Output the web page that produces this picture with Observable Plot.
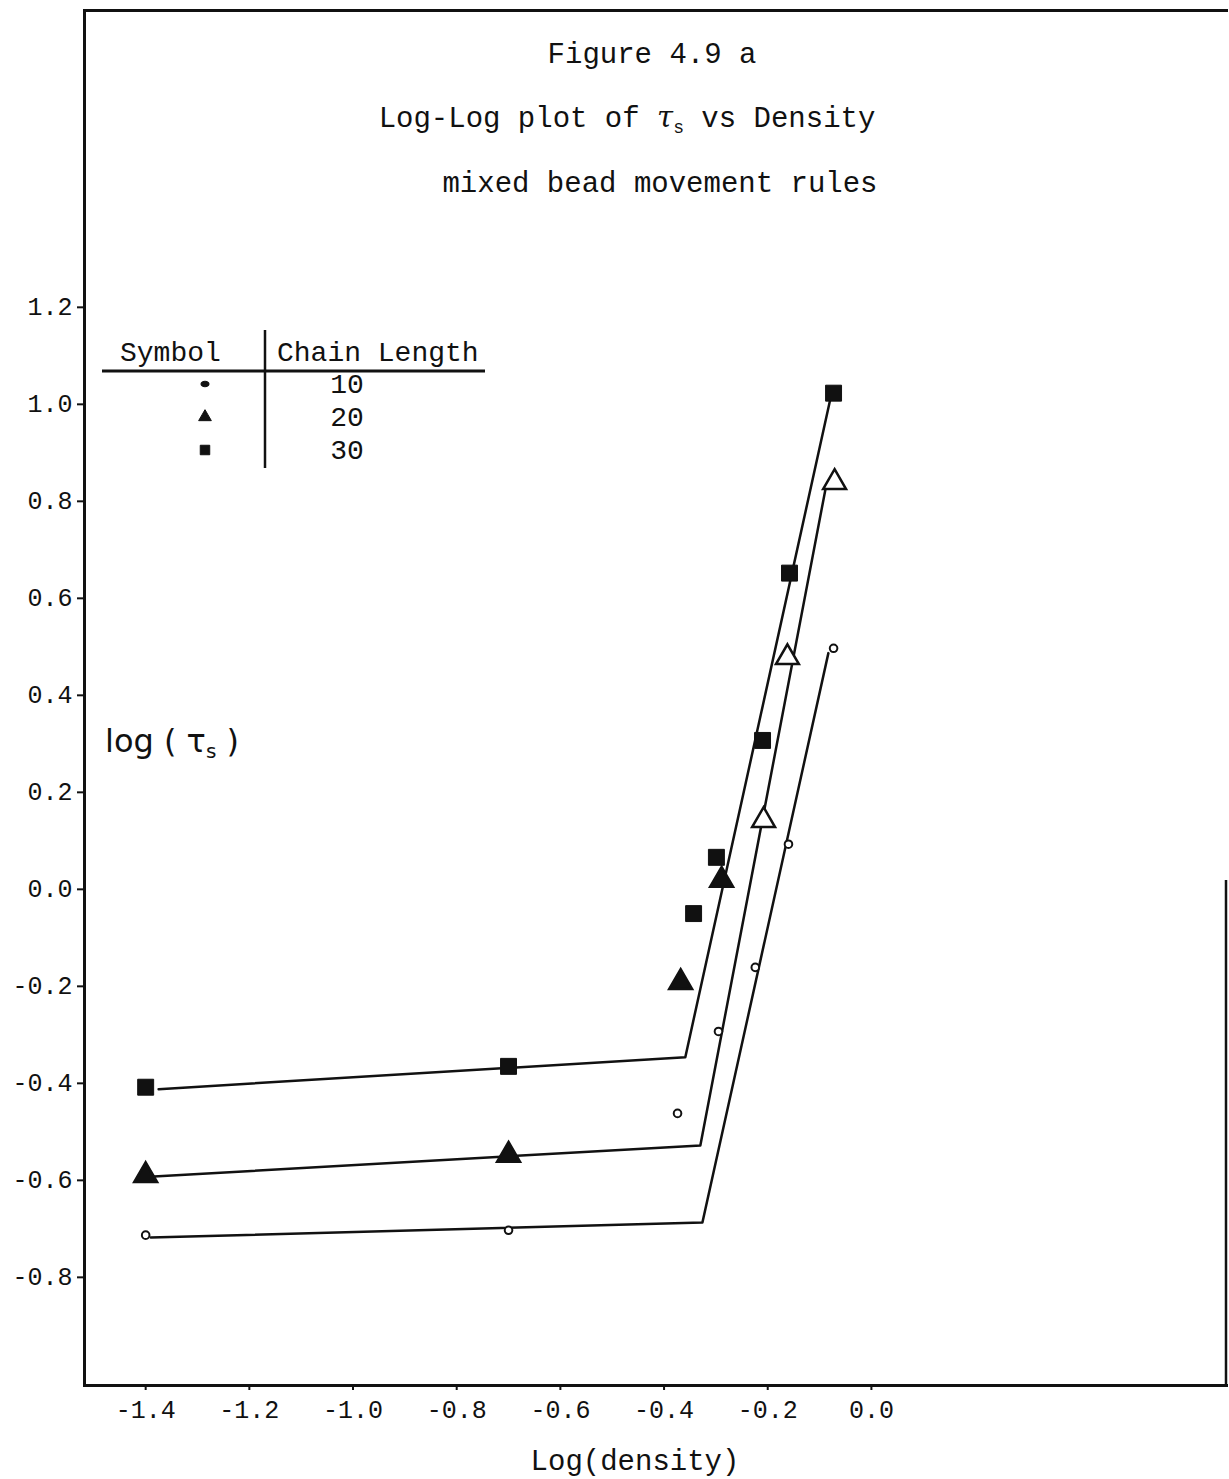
<!DOCTYPE html>
<html><head><meta charset="utf-8">
<script src="https://cdn.jsdelivr.net/npm/d3@7"></script>
<script src="https://cdn.jsdelivr.net/npm/@observablehq/plot@0.6"></script>
<style>body{margin:0;background:#fff} svg{display:block}</style>
</head><body><div id="chart"></div>
<script>
// ---- data ----
const chainLengths = [10, 20, 30];

const chain10X = [-1.40, -0.70, -0.374, -0.295, -0.224, -0.160, -0.073];
const chain10Y = [-0.713, -0.703, -0.462, -0.293, -0.161, 0.093, 0.497];
const chain20X = [-1.40, -0.70, -0.368, -0.289, -0.208, -0.162, -0.071];
const chain20Y = [-0.590, -0.548, -0.192, 0.019, 0.142, 0.478, 0.839];
const chain30X = [-1.40, -0.70, -0.343, -0.299, -0.210, -0.158, -0.073];
const chain30Y = [-0.408, -0.365, -0.050, 0.066, 0.307, 0.652, 1.023];

// fitted piecewise lines (start, knee, end)
const fit10X = [-1.390, -0.326, -0.083];
const fit10Y = [-0.718, -0.687, 0.487];
const fit20X = [-1.384, -0.330, -0.089];
const fit20Y = [-0.592, -0.528, 0.823];
const fit30X = [-1.375, -0.359, -0.079];
const fit30Y = [-0.412, -0.346, 1.012];

const xTicks = [-1.4, -1.2, -1.0, -0.8, -0.6, -0.4, -0.2, 0.0];
const yTicks = [1.2, 1.0, 0.8, 0.6, 0.4, 0.2, 0.0, -0.2, -0.4, -0.6, -0.8];

const titleLine1 = "Figure 4.9 a";
const titleLine2a = "Log-Log plot of ";
const titleLine2b = " vs Density";
const titleLine3 = "mixed bead movement rules";
const xLabel = "Log(density)";
const legendHead = ["Symbol", "Chain Length"];

// ---- tables ----
const toRows = (xs, ys, chain) => xs.map((x, i) => ({x, y: ys[i], chain}));
const pts10 = toRows(chain10X, chain10Y, 10);
const pts20 = toRows(chain20X, chain20Y, 20);
const pts30 = toRows(chain30X, chain30Y, 30);
const fits = [
  ...toRows(fit10X, fit10Y, 10),
  ...toRows(fit20X, fit20Y, 20),
  ...toRows(fit30X, fit30Y, 30)
];

const ink = "#111";
const fmt = d => d.toFixed(1);
const mono = "Liberation Mono, DejaVu Sans Mono, monospace";

const chart = Plot.plot({
  width: 1229,
  height: 1479,
  marginLeft: 84,
  marginRight: 3,
  marginTop: 10,
  marginBottom: 94,
  x: {domain: [-1.518, 0.685]},
  y: {domain: [-1.023, 1.812]},
  style: {fontFamily: mono, fontSize: "24px", color: ink, background: "white"},
  marks: [
    Plot.frame({anchor: "left", stroke: ink, strokeWidth: 3}),
    Plot.frame({anchor: "top", stroke: ink, strokeWidth: 3}),
    Plot.frame({anchor: "bottom", stroke: ink, strokeWidth: 3}),
    Plot.axisX({ticks: xTicks, tickFormat: fmt, tickSize: 5, tickPadding: 10, fontSize: 25, label: null, strokeWidth: 2}),
    Plot.axisY({ticks: yTicks, tickFormat: fmt, tickSize: 7, tickPadding: 5, fontSize: 25, label: null, strokeWidth: 2}),
    Plot.line(fits, {x: "x", y: "y", z: "chain", stroke: ink, strokeWidth: 2.5}),
    Plot.dot(pts10, {x: "x", y: "y", symbol: "circle", r: 3.8, fill: "white", stroke: ink, strokeWidth: 2}),
    Plot.dot(pts20, {x: "x", y: "y", symbol: "triangle", r: 8.5,
      fill: d => d.x < -0.25 ? ink : "white", stroke: ink, strokeWidth: 2.5}),
    Plot.dot(pts30, {x: "x", y: "y", symbol: "square", r: 9, fill: ink, stroke: ink, strokeWidth: 1})
  ]
});

const svg = d3.select(chart);

// titles
svg.append("text").attr("x", 652).attr("y", 63).attr("text-anchor", "middle")
  .attr("font-family", mono).attr("font-size", 29).attr("fill", ink).text(titleLine1);
const t2 = svg.append("text").attr("x", 627).attr("y", 127).attr("text-anchor", "middle")
  .attr("font-family", mono).attr("font-size", 29).attr("fill", ink);
t2.append("tspan").text(titleLine2a);
t2.append("tspan").attr("font-family", "DejaVu Serif, serif").attr("font-style", "italic").text("τ");
t2.append("tspan").attr("font-size", 18).attr("dy", 6).text("s");
t2.append("tspan").attr("dy", -6).text(titleLine2b);
svg.append("text").attr("x", 660).attr("y", 192).attr("text-anchor", "middle")
  .attr("font-family", mono).attr("font-size", 29).attr("fill", ink).text(titleLine3);

// x axis label
svg.append("text").attr("x", 635).attr("y", 1470).attr("text-anchor", "middle")
  .attr("font-family", mono).attr("font-size", 29).attr("fill", ink).text(xLabel);

// handwritten y label
const yl = svg.append("text").attr("x", 105).attr("y", 752).attr("text-anchor", "start")
  .attr("font-family", "DejaVu Sans, sans-serif").attr("font-size", 32).attr("fill", ink);
yl.append("tspan").text("log ( ");
yl.append("tspan").text("τ");
yl.append("tspan").attr("font-size", 20).attr("dy", 6).text("s");
yl.append("tspan").attr("dy", -6).text(" )");

// partial right frame line
svg.append("line").attr("x1", 1226).attr("x2", 1226).attr("y1", 880).attr("y2", 1385)
  .attr("stroke", ink).attr("stroke-width", 2.5);

// legend table
const lg = svg.append("g").attr("font-family", mono).attr("font-size", 28).attr("fill", ink)
  .attr("text-anchor", "start");
lg.append("text").attr("x", 120).attr("y", 361).attr("text-anchor", "start").text(legendHead[0]);
lg.append("text").attr("x", 277).attr("y", 361).attr("text-anchor", "start").text(legendHead[1]);
lg.append("line").attr("x1", 102).attr("x2", 485).attr("y1", 371).attr("y2", 371)
  .attr("stroke", ink).attr("stroke-width", 3);
lg.append("line").attr("x1", 265).attr("x2", 265).attr("y1", 330).attr("y2", 468)
  .attr("stroke", ink).attr("stroke-width", 2.5);
const legendSymbols = [d3.symbolCircle, d3.symbolTriangle, d3.symbolSquare];
const legendSizes = [28, 70, 90];
chainLengths.forEach((c, i) => {
  const yy = 384 + i * 33;
  lg.append("path").attr("d", d3.symbol(legendSymbols[i], legendSizes[i])())
    .attr("transform", `translate(205,${yy}) ${i === 0 ? "scale(1.3,0.9)" : ""}`)
    .attr("fill", ink).attr("stroke", ink).attr("stroke-width", 1);
  lg.append("text").attr("x", 347).attr("y", yy + 9).attr("text-anchor", "middle").text(String(c));
});

document.getElementById("chart").appendChild(chart);
</script>
</body></html>
